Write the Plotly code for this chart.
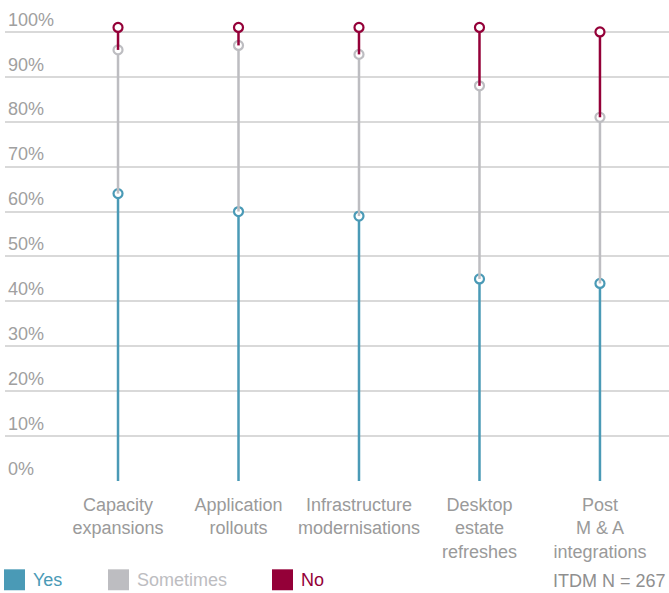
import plotly.graph_objects as go

categories = ["Capacity<br>expansions", "Application<br>rollouts", "Infrastructure<br>modernisations",
              "Desktop<br>estate<br>refreshes", "Post<br>M & A<br>integrations"]
yes = [64, 60, 59, 45, 44]
sometimes = [32, 37, 36, 43, 37]
no = [5, 4, 6, 13, 19]
y_ticks = [0, 10, 20, 30, 40, 50, 60, 70, 80, 90, 100]
y_tick_text = [f"{v}%" for v in y_ticks]

series = [("Yes", yes, "#4a9ab6"), ("Sometimes", sometimes, "#bdbdc1"), ("No", no, "#940038")]

xs = list(range(len(categories)))
fig = go.Figure()

base = [0] * len(categories)
for name, vals, color in series:
    top = [b + v for b, v in zip(base, vals)]
    lx, ly = [], []
    for x, b, t in zip(xs, base, top):
        lx += [x, x, None]
        ly += [b, t, None]
    fig.add_trace(go.Scatter(x=lx, y=ly, mode="lines", line=dict(color=color, width=2.5),
                             hoverinfo="skip", showlegend=False, cliponaxis=False))
    fig.add_trace(go.Scatter(x=xs, y=top, mode="markers", name=name, showlegend=False,
                             cliponaxis=False,
                             marker=dict(symbol="circle", size=9, color="white",
                                         line=dict(color=color, width=2.2))))
    base = top

# plot area geometry in pixels (used to place the legend in paper coords)
top_px, bottom_px, left_px, width_px = 4.5, 481.5, 5, 664
height_px = bottom_px - top_px


def py(px):
    return (bottom_px - px) / height_px


def px_x(px):
    return (px - left_px) / width_px


legend_x = [4, 108, 272]
for (name, _, color), lx in zip(series, legend_x):
    fig.add_shape(type="rect", xref="paper", yref="paper",
                  x0=px_x(lx), x1=px_x(lx + 21), y0=py(591), y1=py(570),
                  fillcolor=color, line=dict(width=0))
    fig.add_annotation(xref="paper", yref="paper", x=px_x(lx + 27), y=py(580.5),
                       text=name, showarrow=False, xanchor="left", yanchor="middle",
                       font=dict(size=18, color=color, family="Liberation Sans"))

fig.add_annotation(xref="paper", yref="paper", x=px_x(668), y=py(582),
                   text="ITDM N = 267", showarrow=False, xanchor="right", yanchor="middle",
                   font=dict(size=18, color="#8f8f8f", family="Liberation Sans"))

fig.update_layout(
    width=669, height=593,
    margin=dict(l=left_px, r=0, t=top_px, b=593 - bottom_px, pad=0),
    plot_bgcolor="white", paper_bgcolor="white",
    font=dict(family="Liberation Sans", color="#9a9a9a", size=18),
    xaxis=dict(range=[-0.938, 4.573], tickvals=xs, ticktext=categories, showgrid=False,
               zeroline=False, showline=False, ticks="", ticklabelstandoff=11,
               tickfont=dict(size=18, color="#9a9a9a")),
    yaxis=dict(range=[0, 106], tickvals=y_ticks, ticktext=y_tick_text, showgrid=True,
               gridcolor="#d9d9d9", gridwidth=1.5, zeroline=False, showline=False,
               ticklabelposition="inside top", tickfont=dict(size=18, color="#a0a0a0")),
)

fig.write_html("out.html")
